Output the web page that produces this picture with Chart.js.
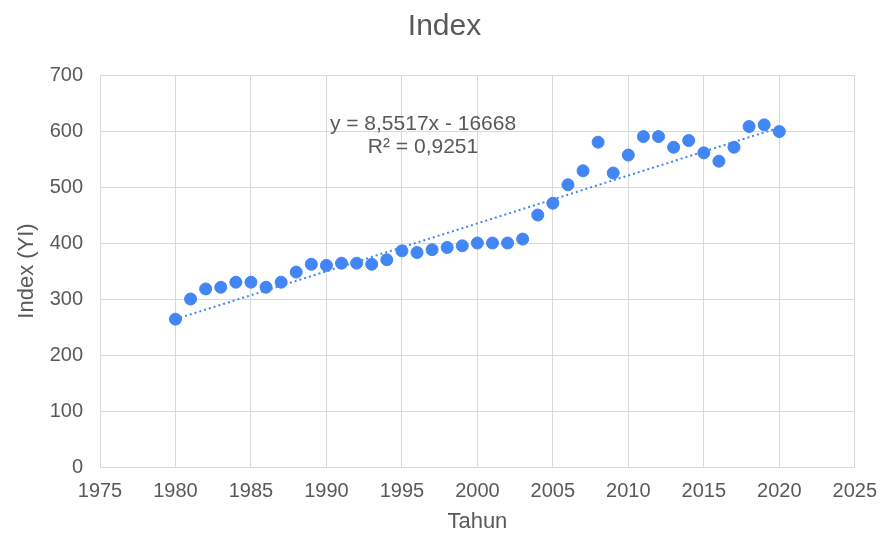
<!DOCTYPE html>
<html>
<head>
<meta charset="utf-8">
<script src="https://cdn.jsdelivr.net/npm/chart.js@4.4.1/dist/chart.umd.min.js"></script>
<style>
  html, body { margin: 0; padding: 0; background: #fff; }
  #wrap { width: 889px; height: 535px; position: relative; }
</style>
</head>
<body>
<div id="wrap"><canvas id="c"></canvas></div>
<script>
// Index (YI) per tahun
const years = [1980, 1981, 1982, 1983, 1984, 1985, 1986, 1987, 1988, 1989,
  1990, 1991, 1992, 1993, 1994, 1995, 1996, 1997, 1998, 1999,
  2000, 2001, 2002, 2003, 2004, 2005, 2006, 2007, 2008, 2009,
  2010, 2011, 2012, 2013, 2014, 2015, 2016, 2017, 2018, 2019, 2020];
const indexValues = [264, 300, 318, 321, 330, 330, 321, 330, 348, 362,
  360, 364, 364, 362, 370, 386, 383, 388, 392, 395,
  400, 400, 400, 407, 450, 471, 504, 529, 580, 525,
  557, 590, 590, 571, 583, 561, 546, 571, 608, 611, 599];

// linear trendline ends (1980 and 2020)
const trendYears = [1980, 2020];
const trendValues = [264, 606];
const trendText = ['y = 8,5517x - 16668', 'R² = 0,9251'];

const xTicks = [1975, 1980, 1985, 1990, 1995, 2000, 2005, 2010, 2015, 2020, 2025];
const yTicks = [0, 100, 200, 300, 400, 500, 600, 700];

const grey = '#595959';
const font = 'Liberation Sans, Arial, sans-serif';

// equation label sits over the trendline like in the sheet
const trendLabel = {
  id: 'trendLabel',
  afterDatasetsDraw(chart) {
    const { ctx, scales } = chart;
    const x = scales.x.getPixelForValue(1996.4);
    const y = scales.y.getPixelForValue(613);
    ctx.save();
    ctx.fillStyle = grey;
    ctx.font = '21px ' + font;
    ctx.textAlign = 'center';
    ctx.textBaseline = 'middle';
    ctx.fillText(trendText[0], x, y);
    ctx.fillText(trendText[1], x, y + 23);
    ctx.restore();
  }
};

new Chart(document.getElementById('c'), {
  type: 'scatter',
  data: {
    datasets: [
      {
        label: 'Index',
        data: years.map((yr, i) => ({ x: yr, y: indexValues[i] })),
        backgroundColor: '#4285f4',
        borderColor: '#4285f4',
        pointRadius: 6,
        pointHoverRadius: 6,
        order: 1
      },
      {
        label: 'Trend',
        type: 'line',
        data: trendYears.map((yr, i) => ({ x: yr, y: trendValues[i] })),
        borderColor: '#4285f4',
        borderWidth: 2,
        borderDash: [2, 3],
        pointRadius: 0,
        fill: false,
        order: 2
      }
    ]
  },
  options: {
    responsive: true,
    maintainAspectRatio: false,
    animation: false,
    layout: { padding: 0 },
    plugins: {
      legend: { display: false },
      tooltip: { enabled: false },
      title: {
        display: true,
        text: 'Index',
        color: grey,
        font: { family: font, size: 30, weight: 'normal' },
        padding: { top: 9, bottom: 30 }
      }
    },
    scales: {
      x: {
        type: 'linear',
        min: 1975,
        max: 2025,
        afterBuildTicks: s => { s.ticks = xTicks.map(v => ({ value: v })); },
        afterFit: s => { s.height = 68; },
        ticks: {
          color: grey,
          font: { family: font, size: 20 },
          padding: 12,
          maxRotation: 0,
          callback: v => String(v)
        },
        grid: { color: '#d9d9d9', lineWidth: 1, drawTicks: false },
        border: { color: '#d9d9d9' },
        title: {
          display: true,
          text: 'Tahun',
          color: grey,
          font: { family: font, size: 22 },
          padding: { top: 0, bottom: 0 }
        }
      },
      y: {
        min: 0,
        max: 700,
        afterBuildTicks: s => { s.ticks = yTicks.map(v => ({ value: v })); },
        afterFit: s => { s.width = 100; },
        ticks: {
          color: grey,
          font: { family: font, size: 20 },
          padding: 17
        },
        grid: { color: '#d9d9d9', lineWidth: 1, drawTicks: false },
        border: { color: '#d9d9d9' },
        title: {
          display: true,
          text: 'Index (YI)',
          color: grey,
          font: { family: font, size: 22 },
          padding: { top: 14, bottom: 0 }
        }
      },
      // empty right gutter so the title stays centred on the page
      gutter: {
        type: 'linear',
        position: 'right',
        afterFit: s => { s.width = 29; },
        ticks: { display: false },
        grid: { display: false },
        border: { display: false }
      }
    }
  },
  plugins: [trendLabel]
});
</script>
</body>
</html>
